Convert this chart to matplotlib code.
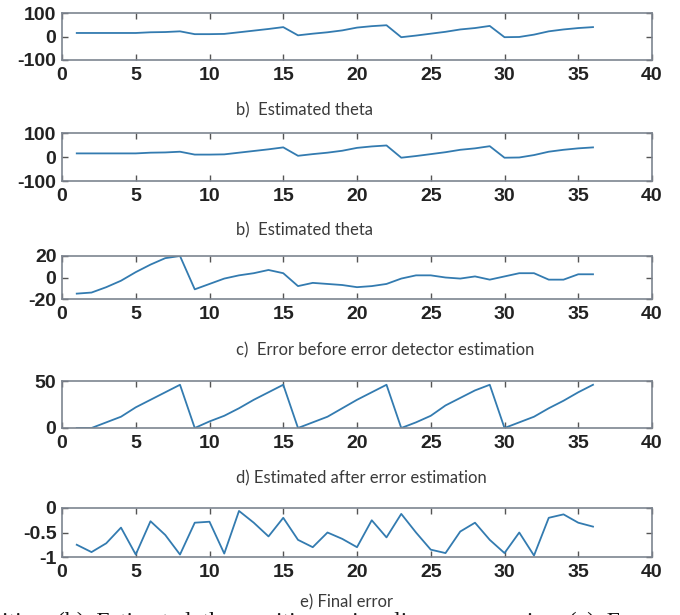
import matplotlib
matplotlib.use("Agg")
import matplotlib.pyplot as plt

plt.rcParams['axes.unicode_minus'] = False

x = list(range(1, 37))
theta_a = [15, 15, 15, 15, 15, 18, 19, 22, 10, 10, 11, 18, 25, 32, 40, 5, 12, 18,
           26, 38, 44, 48, -3, 4, 12, 20, 30, 36, 45, -3, -2, 8, 22, 30, 36, 40]
theta_b = [15, 15, 15, 15, 15, 18, 19, 22, 10, 10, 11, 18, 25, 32, 40, 5, 12, 18,
           26, 38, 44, 48, -3, 4, 12, 20, 30, 36, 45, -3, -2, 8, 22, 30, 36, 40]
err_before = [-15, -14, -9, -3, 5, 12, 18, 20, -11, -6, -1, 2, 4, 7, 4, -8, -5, -6,
              -7, -9, -8, -6, -1, 2, 2, 0, -1, 1, -2, 1, 4, 4, -2, -2, 3, 3]
est_after = [0, 0, 6, 12, 22, 30, 38, 46, 0, 7, 13, 21, 30, 38, 46, 0, 6, 12,
             21, 30, 38, 46, 0, 6, 13, 24, 32, 40, 46, 0, 6, 12, 21, 29, 38, 46]
final_err = [-0.75, -0.9, -0.72, -0.4, -0.95, -0.27, -0.55, -0.95, -0.3, -0.28, -0.93, -0.06,
             -0.3, -0.58, -0.2, -0.65, -0.8, -0.5, -0.63, -0.8, -0.25, -0.6, -0.12, -0.5,
             -0.85, -0.92, -0.48, -0.3, -0.65, -0.92, -0.5, -0.97, -0.2, -0.13, -0.3, -0.38]

xticks = [0, 5, 10, 15, 20, 25, 30, 35, 40]
panels = [
    (theta_a, (-100, 100), [-100, 0, 100], ['-100', '0', '100'], "b)  Estimated theta"),
    (theta_b, (-100, 100), [-100, 0, 100], ['-100', '0', '100'], "b)  Estimated theta"),
    (err_before, (-20, 20), [-20, 0, 20], ['-20', '0', '20'], "c)  Error before error detector estimation"),
    (est_after, (0, 50), [0, 50], ['0', '50'], "d) Estimated after error estimation"),
    (final_err, (-1, 0), [-1, -0.5, 0], ['-1', '-0.5', '0'], "e) Final error"),
]

W, H = 680, 615
# (top_px, bottom_px, caption_y_px, caption_x_px, caption_ha)
geom = [(13, 60, 110, 236, 'left'), (133, 181, 230, 236, 'left'),
        (256, 299, 350, 236, 'left'), (381, 428, 478, 236, 'left'),
        (508, 557, 602, 347, 'center')]

fig = plt.figure(figsize=(W / 100, H / 100), dpi=100)
line_color = "#337bb0"
spine_color = "#7d8590"
left_px, right_px = 62, 652
tick_font = dict(fontsize=14, fontweight='bold', family='Liberation Sans', color='#222222')

for (data, ylim, yt, ytl, cap), (tp, bp, cy, cx, ha) in zip(panels, geom):
    ax = fig.add_axes([left_px / W, 1 - bp / H, (right_px - left_px) / W, (bp - tp) / H])
    ax.plot(x, data, color=line_color, lw=1.3)
    ax.set_xlim(0, 40)
    ax.set_ylim(*ylim)
    ax.set_xticks(xticks)
    ax.set_xticklabels([str(t) for t in xticks], **tick_font)
    ax.set_yticks(yt)
    ax.set_yticklabels(ytl, **tick_font)
    ax.tick_params(direction='in', top=True, right=True, length=4, width=1,
                   color='#555555')
    ax.tick_params(axis='x', pad=5)
    ax.tick_params(axis='y', pad=4)
    for s in ax.spines.values():
        s.set_color(spine_color)
        s.set_linewidth(1.2)
    fig.text(cx / W, 1 - cy / H, cap, ha=ha, va='center', fontsize=12,
             family='Lato', color='#3a3a3a')

fig.text(2 / W, 1 - 622 / H, "ition  (b)  Estimated  the  position  using  linear  regression  (c)  E",
         ha='left', va='center', fontsize=17, family='Liberation Serif', color='#111111')

fig.savefig("out.png", dpi=100)
